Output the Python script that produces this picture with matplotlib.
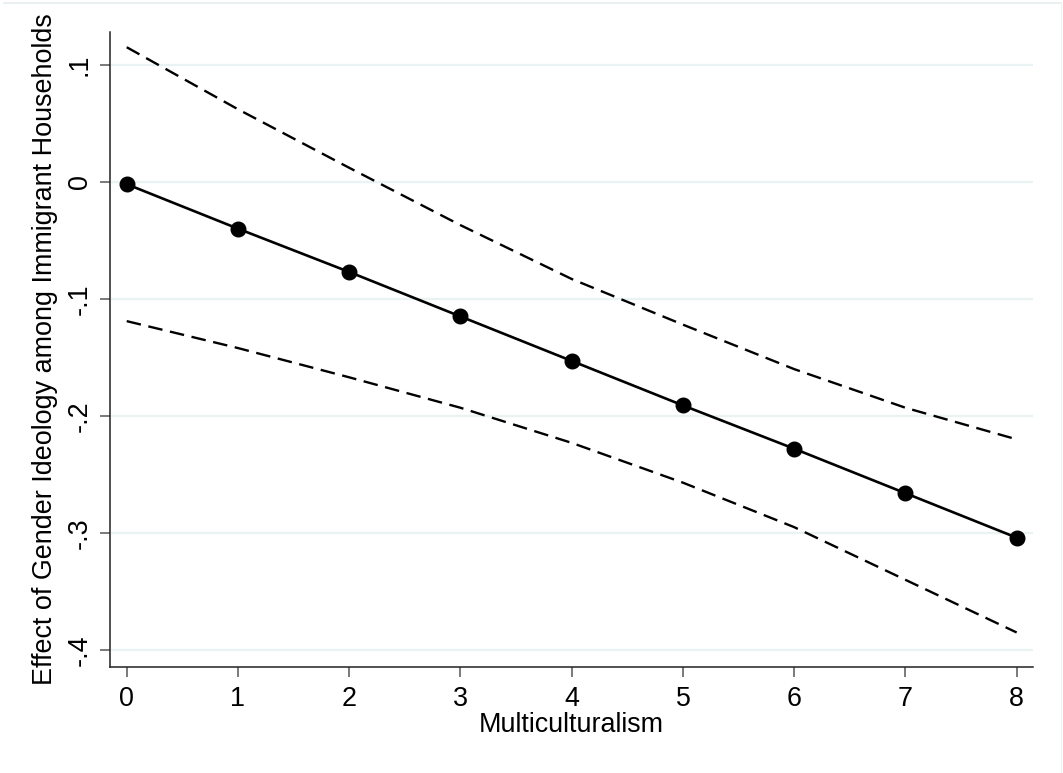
import matplotlib
matplotlib.use("Agg")
import matplotlib.pyplot as plt
from matplotlib.lines import Line2D

# Data
x_vals = [0, 1, 2, 3, 4, 5, 6, 7, 8]
effect = [-0.002, -0.040, -0.077, -0.115, -0.153, -0.191, -0.228, -0.266, -0.304]
upper_ci = [0.115, 0.062, 0.012, -0.037, -0.083, -0.122, -0.160, -0.193, -0.220]
lower_ci = [-0.119, -0.142, -0.167, -0.193, -0.223, -0.257, -0.295, -0.340, -0.385]

y_ticks = [-0.4, -0.3, -0.2, -0.1, 0.0, 0.1]
y_tick_labels = ["-.4", "-.3", "-.2", "-.1", "0", ".1"]
x_ticks = [0, 1, 2, 3, 4, 5, 6, 7, 8]
x_tick_labels = ["0", "1", "2", "3", "4", "5", "6", "7", "8"]

plt.rcParams['font.family'] = ['Liberation Sans', 'DejaVu Sans']
plt.rcParams['lines.scale_dashes'] = False

fig = plt.figure(figsize=(10.63, 7.73), dpi=100)
# faint outer frame lines (top and right only, as in the reference)
fig.lines.append(Line2D([0.004, 0.998], [0.9965, 0.9965], transform=fig.transFigure,
                        color='#e6eef0', lw=1.2))
fig.lines.append(Line2D([0.998, 0.998], [0.0, 0.9965], transform=fig.transFigure,
                        color='#eef2f3', lw=1.0))
ax = fig.add_axes([0.1035, 0.1371, 0.8683, 0.8215])

for yt in y_ticks:
    ax.axhline(yt, color='#eaf2f3', lw=1.6, zorder=0)

ax.plot(x_vals, upper_ci, color='black', lw=1.7, dashes=(10.5, 5.5))
ax.plot(x_vals, lower_ci, color='black', lw=1.7, dashes=(10.5, 5.5))
ax.plot(x_vals, effect, color='black', lw=1.9, marker='o', ms=10.5,
        markerfacecolor='black', markeredgecolor='black')

ax.set_xlim(-0.15, 8.147)
ax.set_ylim(-0.4145, 0.128)

ax.set_yticks(y_ticks)
ax.set_yticklabels(y_tick_labels, rotation=90, va='center')
ax.set_xticks(x_ticks)
ax.set_xticklabels(x_tick_labels)

ax.tick_params(axis='both', direction='out', length=7.5, width=1.1, color='#555555',
               labelsize=19.4, labelcolor='black')
ax.tick_params(axis='y', pad=5)
ax.tick_params(axis='x', pad=6)

for s in ['top', 'right']:
    ax.spines[s].set_visible(False)
for s in ['left', 'bottom']:
    ax.spines[s].set_color('#222222')
    ax.spines[s].set_linewidth(1.1)

ax.set_xlabel("Multiculturalism", fontsize=19.4, labelpad=0)
ax.set_ylabel("Effect of Gender Ideology among Immigrant Households", fontsize=19.4, labelpad=6)

fig.savefig("out.png", dpi=100, facecolor='white')
